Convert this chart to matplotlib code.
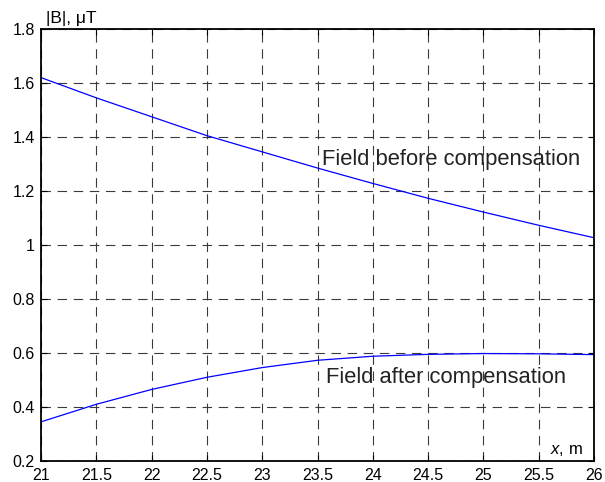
import numpy as np
import matplotlib.pyplot as plt

plt.rcParams['font.family'] = ['Liberation Sans', 'DejaVu Sans']
plt.rcParams['mathtext.fontset'] = 'custom'
plt.rcParams['mathtext.rm'] = 'Liberation Sans'
plt.rcParams['mathtext.it'] = 'Liberation Sans:italic'

# distance along x, m
x = [21, 21.5, 22, 22.5, 23, 23.5, 24, 24.5, 25, 25.5, 26]
# |B| in uT
b_before = [1.62, 1.545, 1.475, 1.405, 1.345, 1.285, 1.228, 1.173, 1.122, 1.073, 1.027]
b_after = [0.345, 0.41, 0.465, 0.51, 0.546, 0.573, 0.588, 0.595, 0.598, 0.597, 0.594]

xticks = [21, 21.5, 22, 22.5, 23, 23.5, 24, 24.5, 25, 25.5, 26]
xticklabels = ['21', '21.5', '22', '22.5', '23', '23.5', '24', '24.5', '25', '25.5', '26']
yticks = [0.2, 0.4, 0.6, 0.8, 1.0, 1.2, 1.4, 1.6, 1.8]
yticklabels = ['0.2', '0.4', '0.6', '0.8', '1', '1.2', '1.4', '1.6', '1.8']

fig = plt.figure(figsize=(6.05, 4.82), dpi=100)
ax = fig.add_axes([41/605, 1-461/482, (594-41)/605, (461-29)/482])

ax.plot(x, b_before, color='blue', linewidth=0.9)
ax.plot(x, b_after, color='blue', linewidth=0.9)

ax.set_xlim(21, 26)
ax.set_ylim(0.2, 1.8)
ax.set_xticks(xticks)
ax.set_xticklabels(xticklabels)
ax.set_yticks(yticks)
ax.set_yticklabels(yticklabels)

fontsize = 11.5
ax.tick_params(axis='both', direction='in', length=4, width=0.8,
               labelsize=fontsize, top=True, right=True)
ax.tick_params(axis='x', pad=5)
ax.tick_params(axis='y', pad=4.5)
ax.grid(True, color='#3a3a3a', linestyle=(0, (8.5, 6)), linewidth=0.8)
for axis in ['top', 'bottom', 'left', 'right']:
    ax.spines[axis].set_linewidth(1.3)

ax.text(24.71, 1.318, 'Field before compensation', fontsize=15.8, color='#222222',
        ha='center', va='center')
ax.text(24.66, 0.511, 'Field after compensation', fontsize=15.8, color='#222222',
        ha='center', va='center')

fig.text(46/605, 1-23.5/482, '|B|, \u03bcT', fontsize=12.5, ha='left', va='baseline')
ax.text(25.9, 0.225, r'$x$, m', fontsize=12, ha='right', va='baseline')

fig.savefig('out.png', dpi=100)
